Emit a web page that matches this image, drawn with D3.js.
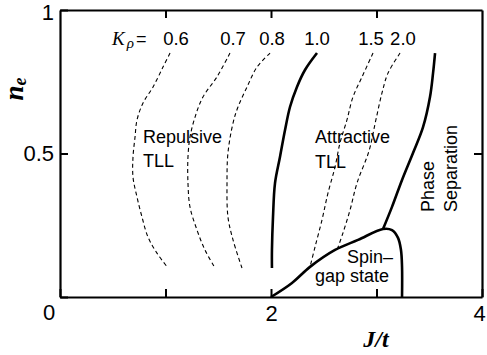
<!DOCTYPE html>
<html>
<head>
<meta charset="utf-8">
<script src="https://cdn.jsdelivr.net/npm/d3@7"></script>
<style>
  html, body { margin: 0; padding: 0; background: #fff; }
  svg { display: block; }
</style>
</head>
<body>
<svg id="chart" width="487" height="355"></svg>
<script>
// ---- data (J/t, n_e) ----
const kLabels = ["0.6", "0.7", "0.8", "1.0", "1.5", "2.0"];
const kLabelJ = [1.10, 1.64, 2.01, 2.436, 2.948, 3.251];

const curveK06 = [[1.043,0.850],[0.976,0.801],[0.882,0.732],[0.787,0.676],[0.730,0.617],[0.711,0.557],[0.692,0.488],[0.692,0.418],[0.730,0.348],[0.777,0.279],[0.834,0.209],[0.919,0.153],[1.024,0.101]];
const curveK07 = [[1.611,0.850],[1.488,0.767],[1.355,0.697],[1.280,0.627],[1.232,0.557],[1.213,0.488],[1.213,0.397],[1.232,0.314],[1.299,0.233],[1.374,0.164],[1.469,0.101]];
const curveK08 = [[1.991,0.850],[1.867,0.801],[1.773,0.732],[1.687,0.662],[1.640,0.606],[1.592,0.502],[1.583,0.397],[1.592,0.279],[1.640,0.199],[1.725,0.101]];
const curveK10 = [[2.436,0.850],[2.322,0.791],[2.246,0.732],[2.180,0.662],[2.133,0.582],[2.085,0.488],[2.038,0.397],[2.019,0.279],[2.009,0.164],[2.009,0.101]];
const curveK15 = [[2.967,0.850],[2.863,0.767],[2.777,0.697],[2.720,0.617],[2.654,0.537],[2.607,0.453],[2.540,0.362],[2.483,0.268],[2.417,0.174],[2.370,0.105]];
const curveK20 = [[3.223,0.850],[3.109,0.780],[3.052,0.711],[2.990,0.610],[2.930,0.510],[2.815,0.397],[2.749,0.303],[2.682,0.223],[2.626,0.164]];
const phaseSepLine = [[3.555,0.850],[3.536,0.780],[3.507,0.697],[3.441,0.592],[3.346,0.502],[3.242,0.408],[3.147,0.314],[3.062,0.237]];
const spinGapLine = [[2.000,0.000],[2.199,0.049],[2.370,0.105],[2.607,0.164],[2.825,0.199],[3.062,0.237],[3.147,0.233],[3.204,0.206],[3.232,0.164],[3.242,0.105],[3.242,0.000]];

const xTicks = [0, 1, 2, 3, 4];
const xTickLabels = {2: "2", 4: "4"};
const yTicks = [0, 0.5, 1];
const yTickLabels = {0.5: "0.5", 1: "1"};

// ---- layout ----
const svg = d3.select("#chart");
const L = 60, R = 482, T = 10, B = 297;
const x = d3.scaleLinear().domain([0, 4]).range([L, R]);
const y = d3.scaleLinear().domain([0, 1]).range([B, T]);

const sans = "'Liberation Sans', Arial, Helvetica, sans-serif";
const serif = "'Liberation Serif', 'Times New Roman', serif";

const line = d3.line().x(d => x(d[0])).y(d => y(d[1])).curve(d3.curveCatmullRom.alpha(0.5));

// dashed contour lines
[curveK06, curveK07, curveK08, curveK15, curveK20].forEach(c => {
  svg.append("path").attr("d", line(c))
    .attr("fill", "none").attr("stroke", "#000")
    .attr("stroke-width", 1.1).attr("stroke-dasharray", "4,3");
});
// solid lines
[curveK10, phaseSepLine, spinGapLine].forEach(c => {
  svg.append("path").attr("d", line(c))
    .attr("fill", "none").attr("stroke", "#000")
    .attr("stroke-width", 2.6).attr("stroke-linejoin", "round");
});

// axes
function styleAxis(g) {
  g.selectAll("path.domain").attr("stroke-width", 2.2);
  g.selectAll(".tick line").attr("stroke-width", 2);
  g.selectAll(".tick text").attr("font-family", sans).attr("font-size", 22).attr("fill", "#000");
}
svg.append("g").attr("transform", `translate(0,${B})`)
  .call(d3.axisBottom(x).tickValues(xTicks).tickSize(-8).tickSizeOuter(0).tickPadding(8)
        .tickFormat(d => xTickLabels[d] || ""))
  .call(styleAxis);
svg.append("g").attr("transform", `translate(0,${T})`)
  .call(d3.axisTop(x).tickValues([1, 2, 3]).tickSize(-8).tickSizeOuter(0).tickFormat(""))
  .call(styleAxis);
svg.append("g").attr("transform", `translate(${L},0)`)
  .call(d3.axisLeft(y).tickValues(yTicks).tickSize(-8).tickSizeOuter(0).tickPadding(6)
        .tickFormat(d => yTickLabels[d] || ""))
  .call(styleAxis);
svg.append("g").attr("transform", `translate(${R},0)`)
  .call(d3.axisRight(y).tickValues([0.5]).tickSize(-8).tickSizeOuter(0).tickFormat(""))
  .call(styleAxis);
svg.selectAll(".tick").filter(d => d === 4).select("text").attr("dx", -3);
svg.selectAll(".tick").filter(d => d === 1).select("text").attr("dy", "0.45em");

// shared origin label
svg.append("text").attr("x", x(0) - 11).attr("y", 320)
  .attr("text-anchor", "middle").attr("font-family", sans).attr("font-size", 22).text("0");

// K_rho labels
const kt = svg.append("text").attr("x", 112).attr("y", 45)
  .attr("font-family", serif).attr("font-size", 19);
kt.append("tspan").attr("font-style", "italic").text("K");
kt.append("tspan").attr("font-style", "italic").attr("font-size", 15).attr("dy", 3).attr("dx", 2).text("ρ");
kt.append("tspan").attr("dy", -3).attr("dx", 2).attr("font-family", sans).attr("font-size", 18).text("=");

svg.selectAll("text.klab").data(kLabels).enter().append("text")
  .attr("class", "klab")
  .attr("x", (d, i) => x(kLabelJ[i]))
  .attr("y", 45)
  .attr("text-anchor", "middle")
  .attr("font-family", sans).attr("font-size", 18.5)
  .text(d => d);

// region labels
function label(t, px, py, size) {
  svg.append("text").attr("x", px).attr("y", py)
    .attr("font-family", sans).attr("font-size", size || 18).text(t);
}
label("Repulsive", 143, 143);
label("TLL", 143, 167);
label("Attractive", 315, 143);
label("TLL", 315, 168);
label("Spin–", 347, 263);
label("gap state", 315, 282);

svg.append("text").attr("transform", "translate(434,212) rotate(-90)")
  .attr("font-family", sans).attr("font-size", 18).text("Phase");
svg.append("text").attr("transform", "translate(457,212) rotate(-90)")
  .attr("font-family", sans).attr("font-size", 18).text("Separation");

// axis titles
const ny = svg.append("text").attr("transform", "translate(23,89) rotate(-90)")
  .attr("text-anchor", "middle").attr("font-family", serif)
  .attr("font-style", "italic").attr("font-weight", "bold").attr("font-size", 27);
ny.append("tspan").text("n");
ny.append("tspan").attr("font-size", 18).attr("dy", 3).text("e");

svg.append("text").attr("x", 376).attr("y", 347)
  .attr("text-anchor", "middle").attr("font-family", serif)
  .attr("font-style", "italic").attr("font-weight", "bold").attr("font-size", 24)
  .text("J/t");
</script>
</body>
</html>
